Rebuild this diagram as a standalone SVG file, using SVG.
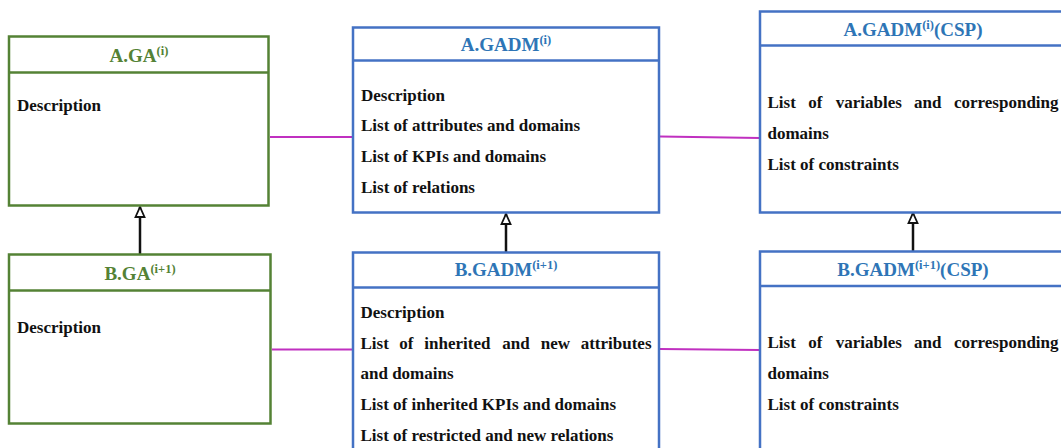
<svg xmlns="http://www.w3.org/2000/svg" width="1061" height="448" viewBox="0 0 1061 448">
<style>
.g{fill:#fff;stroke:#548235;stroke-width:2.5}
.gl{stroke:#548235;stroke-width:2.5}
.b{fill:#fff;stroke:#4472C4;stroke-width:2.5}
.bl{stroke:#4472C4;stroke-width:2.5}
.tg{font-family:"Liberation Serif","Times New Roman",serif;font-weight:bold;font-size:19px;fill:#548235;text-anchor:middle}
.tb{font-family:"Liberation Serif","Times New Roman",serif;font-weight:bold;font-size:19px;fill:#2E75B6;text-anchor:middle}
.sup{font-size:12.5px}
.t{font-family:"Liberation Serif","Times New Roman",serif;font-weight:bold;font-size:17px;fill:#111}
.m{stroke:#C030C0;stroke-width:2;fill:none}
.inh{stroke:#111;stroke-width:2.5;fill:none;marker-end:url(#tri)}
</style>
<defs>
<marker id="tri" markerUnits="userSpaceOnUse" markerWidth="14" markerHeight="14" viewBox="0 0 14 14" refX="12" refY="7" orient="auto">
<path d="M2,2.5 L12,7 L2,11.5 Z" fill="#fff" stroke="#111" stroke-width="1.8"/>
</marker>
</defs>
<rect width="1061" height="448" fill="#fff"/>
<g id="connectors">
<line class="m" x1="270" y1="137" x2="352" y2="137"/>
<line class="m" x1="660" y1="136.5" x2="760" y2="138"/>
<line class="m" x1="272" y1="349.5" x2="352" y2="349.5"/>
<line class="m" x1="660" y1="349" x2="760" y2="350"/>
<line class="inh" x1="140" y1="254" x2="140" y2="207"/>
<line class="inh" x1="506" y1="252" x2="506" y2="214"/>
<line class="inh" x1="913" y1="251" x2="913" y2="213"/>
</g>
<g id="A_GA">
<rect class="g" x="9" y="36.5" width="259.5" height="169"/>
<line class="gl" x1="9" y1="72.5" x2="268.5" y2="72.5"/>
<text class="tg" x="139" y="61.5">A.GA<tspan class="sup" dy="-7">(i)</tspan></text>
<text class="t" x="17" y="110.5">Description</text>
</g>
<g id="A_GADM">
<rect class="b" x="353" y="27.5" width="306" height="185"/>
<line class="bl" x1="353" y1="60.5" x2="659" y2="60.5"/>
<text class="tb" x="506" y="51">A.GADM<tspan class="sup" dy="-7">(i)</tspan></text>
<text class="t" x="361" y="100.5">Description</text>
<text class="t" x="361" y="131">List of attributes and domains</text>
<text class="t" x="361" y="162">List of KPIs and domains</text>
<text class="t" x="361" y="192.5">List of relations</text>
</g>
<g id="A_GADM_CSP">
<rect class="b" x="760" y="11.5" width="306" height="201"/>
<line class="bl" x1="760" y1="45.5" x2="1066" y2="45.5"/>
<text class="tb" x="913" y="35.5">A.GADM<tspan class="sup" dy="-7">(i)</tspan><tspan dy="7">(CSP)</tspan></text>
<text class="t" y="107.5"><tspan x="767.5">List</tspan> <tspan x="808.3">of</tspan> <tspan x="835.7">variables</tspan> <tspan x="914">and</tspan> <tspan x="954">corresponding</tspan></text>
<text class="t" x="767.5" y="138.5">domains</text>
<text class="t" x="767.5" y="169.5">List of constraints</text>
</g>
<g id="B_GA">
<rect class="g" x="9" y="254.5" width="261.5" height="169"/>
<line class="gl" x1="9" y1="290.5" x2="270.5" y2="290.5"/>
<text class="tg" x="140" y="280">B.GA<tspan class="sup" dy="-7">(i+1)</tspan></text>
<text class="t" x="17" y="332.5">Description</text>
</g>
<g id="B_GADM">
<rect class="b" x="353" y="252.5" width="306" height="210"/>
<line class="bl" x1="353" y1="287.5" x2="659" y2="287.5"/>
<text class="tb" x="506" y="276">B.GADM<tspan class="sup" dy="-7">(i+1)</tspan></text>
<text class="t" x="360.5" y="317.5">Description</text>
<text class="t" y="348.5"><tspan x="360.5">List</tspan> <tspan x="399.3">of</tspan> <tspan x="424.3">inherited</tspan> <tspan x="502.3">and</tspan> <tspan x="540.7">new</tspan> <tspan x="580.7">attributes</tspan></text>
<text class="t" x="360.5" y="379">and domains</text>
<text class="t" x="360.5" y="410">List of inherited KPIs and domains</text>
<text class="t" x="360.5" y="441">List of restricted and new relations</text>
</g>
<g id="B_GADM_CSP">
<rect class="b" x="760" y="251.5" width="306" height="210"/>
<line class="bl" x1="760" y1="286" x2="1066" y2="286"/>
<text class="tb" x="913" y="276">B.GADM<tspan class="sup" dy="-7">(i+1)</tspan><tspan dy="7">(CSP)</tspan></text>
<text class="t" y="347.5"><tspan x="767.5">List</tspan> <tspan x="808.3">of</tspan> <tspan x="835.7">variables</tspan> <tspan x="914">and</tspan> <tspan x="954">corresponding</tspan></text>
<text class="t" x="767.5" y="378.5">domains</text>
<text class="t" x="767.5" y="409.5">List of constraints</text>
</g>
</svg>
